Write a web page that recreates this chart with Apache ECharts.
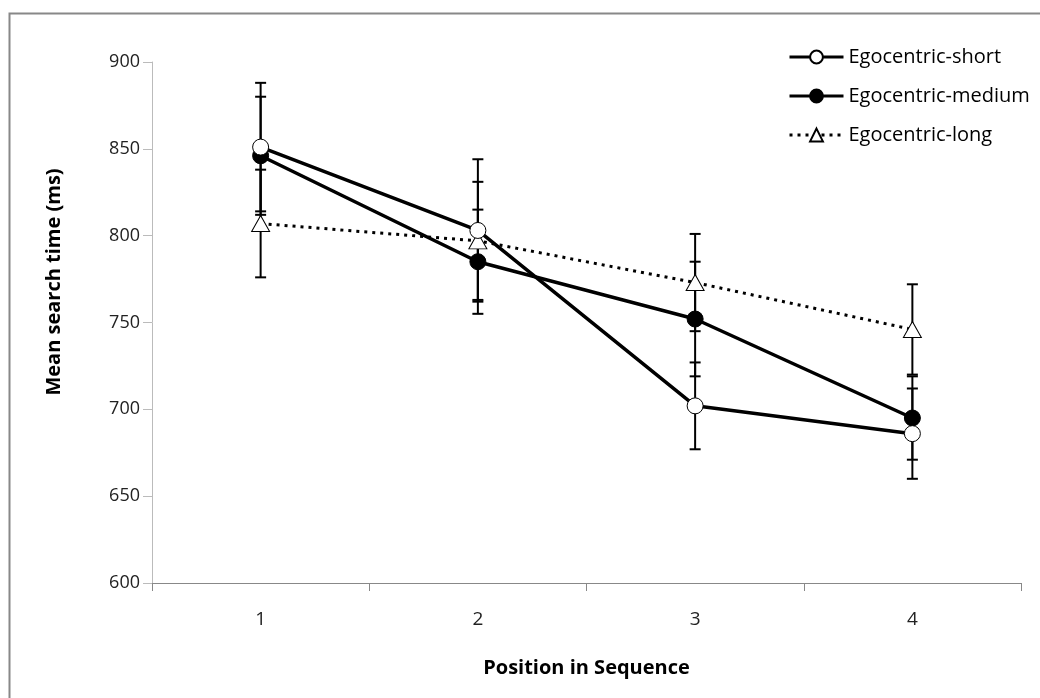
<!DOCTYPE html>
<html><head><meta charset="utf-8">
<script src="https://cdn.jsdelivr.net/npm/echarts@6/dist/echarts.min.js"></script>
<style>html,body{margin:0;padding:0;background:#fff}#c{width:1040px;height:698px}</style>
</head><body><div id="c"></div>
<script>
const categories = ['1', '2', '3', '4'];
const shortMean = [851, 803, 702, 686];
const shortErr = [37, 41, 25, 26];
const mediumMean = [846, 785, 752, 695];
const mediumErr = [34, 30, 33, 24];
const longMean = [807, 797, 773, 746];
const longErr = [31, 34, 28, 26];
const yTicks = [600, 650, 700, 750, 800, 850, 900];
const xTitle = 'Position in Sequence';
const yTitle = 'Mean search time (ms)';

const FONT = '"Open Sans", "Liberation Sans", sans-serif';
const chart = echarts.init(document.getElementById('c'), null, {renderer: 'canvas'});

function errSeries(name, means, errs) {
  return {
    name: name + '-err',
    type: 'custom',
    z: 1,
    silent: true,
    data: means.map((m, i) => [i, m - errs[i], m + errs[i]]),
    renderItem: function (params, api) {
      const lo = api.coord([api.value(0), api.value(1)]);
      const hi = api.coord([api.value(0), api.value(2)]);
      const w = 5.5;
      const st = {stroke: '#000', lineWidth: 2};
      return {
        type: 'group',
        children: [
          {type: 'line', shape: {x1: lo[0], y1: lo[1], x2: hi[0], y2: hi[1]}, style: st},
          {type: 'line', shape: {x1: lo[0] - w, y1: lo[1], x2: lo[0] + w, y2: lo[1]}, style: st},
          {type: 'line', shape: {x1: hi[0] - w, y1: hi[1], x2: hi[0] + w, y2: hi[1]}, style: st}
        ]
      };
    }
  };
}

chart.setOption({
  animation: false,
  backgroundColor: '#fff',
  textStyle: {fontFamily: FONT},
  grid: {left: 152, right: 19, top: 62, bottom: 115},
  legend: {
    orient: 'vertical',
    left: 783,
    top: 42,
    itemGap: 19,
    itemWidth: 54,
    itemHeight: 16,
    lineStyle: {width: 3},
    data: ['Egocentric-short', 'Egocentric-medium', 'Egocentric-long'],
    textStyle: {fontFamily: FONT, fontSize: 20, color: '#000'}
  },
  xAxis: {
    type: 'category',
    data: categories,
    boundaryGap: true,
    name: xTitle,
    nameLocation: 'middle',
    nameGap: 75,
    nameTextStyle: {fontFamily: FONT, fontSize: 20, fontWeight: 'bold', color: '#000'},
    axisLine: {lineStyle: {color: '#888', width: 1}},
    axisTick: {show: true, length: 8, lineStyle: {color: '#888'}, alignWithLabel: false},
    axisLabel: {fontFamily: FONT, fontSize: 19, color: '#222', margin: 27},
    splitLine: {show: false}
  },
  yAxis: {
    type: 'value',
    min: yTicks[0],
    max: yTicks[yTicks.length - 1],
    interval: 50,
    axisLine: {show: true, lineStyle: {color: '#bbb', width: 1}},
    axisTick: {show: true, length: 9, lineStyle: {color: '#bbb'}},
    axisLabel: {fontFamily: FONT, fontSize: 18, color: '#222', margin: 12},
    splitLine: {show: false}
  },
  graphic: [
    {type: 'polyline', silent: true, shape: {points: [[9.5, 698], [9.5, 13.5], [1040, 13.5]]},
     style: {stroke: '#888', lineWidth: 2, fill: null}},
    {type: 'text', silent: true, x: 54, y: 282, rotation: Math.PI / 2,
     style: {text: yTitle, fontFamily: FONT, fontSize: 20, fontWeight: 'bold', fill: '#000',
             align: 'center', verticalAlign: 'middle'}}
  ],
  series: [
    errSeries('short', shortMean, shortErr),
    errSeries('medium', mediumMean, mediumErr),
    errSeries('long', longMean, longErr),
    {
      name: 'Egocentric-long', type: 'line', data: longMean, z: 3,
      symbol: 'triangle', symbolSize: [18, 16],
      lineStyle: {color: '#000', width: 3, type: [3, 5]},
      itemStyle: {color: '#fff', borderColor: '#000', borderWidth: 1}
    },
    {
      name: 'Egocentric-medium', type: 'line', data: mediumMean, z: 4,
      symbol: 'circle', symbolSize: 16,
      lineStyle: {color: '#000', width: 3.5},
      itemStyle: {color: '#000', borderColor: '#000', borderWidth: 1}
    },
    {
      name: 'Egocentric-short', type: 'line', data: shortMean, z: 5,
      symbol: 'circle', symbolSize: 16,
      lineStyle: {color: '#000', width: 3.5},
      itemStyle: {color: '#fff', borderColor: '#000', borderWidth: 1}
    }
  ]
});
</script></body></html>
